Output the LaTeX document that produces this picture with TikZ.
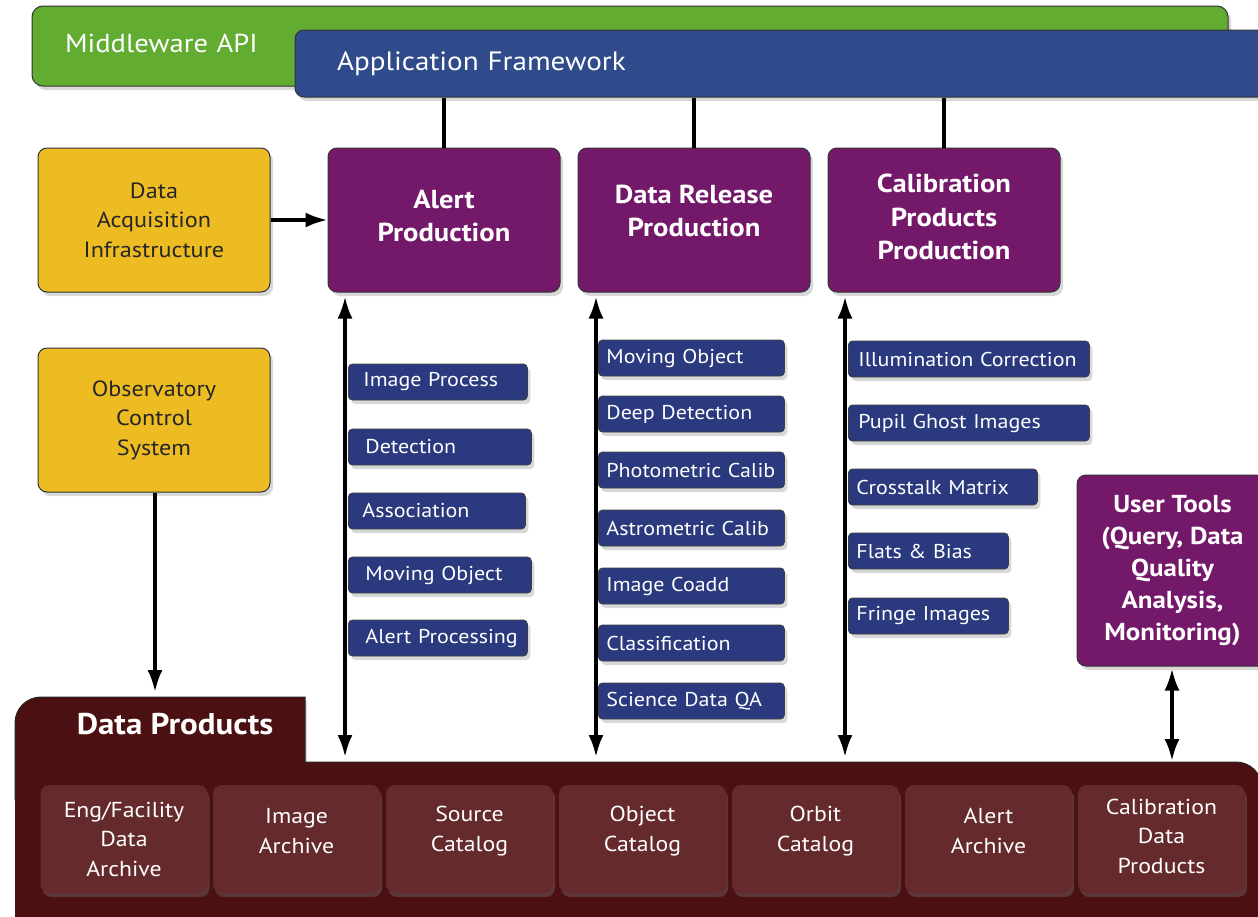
\documentclass[tikz,border=0pt]{standalone}
\usepackage{fontspec}
\setmainfont{PT Sans}[FakeStretch=1.1]
\usetikzlibrary{arrows.meta,shadows,calc}
\definecolor{mwgreen}{HTML}{62AC32}
\definecolor{afblue}{HTML}{2F4B8C}
\definecolor{prodpurple}{HTML}{74186A}
\definecolor{infoyellow}{HTML}{EDBC22}
\definecolor{subblue}{HTML}{2B3A7E}
\definecolor{dpmaroon}{HTML}{4B1012}
\definecolor{dpinner}{HTML}{652A2B}
\begin{document}
\begin{tikzpicture}[x=1pt,y=-1pt,
  shd/.style={drop shadow={shadow xshift=3pt,shadow yshift=-4pt,opacity=0.3}},
  prodbox/.style={draw=black!80,line width=1pt,fill=prodpurple,rounded corners=9pt,
    minimum width=232pt,minimum height=144pt,shd,inner sep=0pt},
  prodtext/.style={text=white,font=\fontsize{26}{33.5}\selectfont\bfseries,align=center},
  infobox/.style={draw=black!80,line width=1pt,fill=infoyellow,rounded corners=9pt,
    minimum width=232pt,minimum height=144pt,text=black!85,
    font=\fontsize{22}{29.5}\selectfont,align=center,shd,inner sep=0pt},
  subbox/.style={fill=subblue,draw=black!75,line width=0.8pt,rounded corners=4pt,
    minimum height=36pt,text=white,font=\fontsize{20}{22}\selectfont,
    anchor=west,align=left,inner ysep=0pt,shd},
  dpbox/.style={fill=dpinner,rounded corners=9pt,minimum width=167pt,minimum height=108pt,
    inner sep=0pt,drop shadow={shadow xshift=2pt,shadow yshift=-4pt,opacity=0.35}},
  dptext/.style={text=white,font=\fontsize{21.6}{29.5}\selectfont,align=center},
  conn/.style={line width=4pt,black},
  arr/.style={line width=3.5pt,black,-{Latex[length=22pt,width=15pt]}},
  darr/.style={line width=3.5pt,black,{Latex[length=22pt,width=15pt]}-{Latex[length=22pt,width=15pt]}}
]
\useasboundingbox (0,0) rectangle (1258,916);
\fill[white] (0,0) rectangle (1258,916);

% Middleware API and Application Framework
\node[draw=black!80,line width=1pt,fill=mwgreen,rounded corners=11pt,minimum width=1196pt,
  minimum height=80pt,inner xsep=33pt,text width=1130pt,align=left,text=white,
  font=\fontsize{26}{30}\selectfont,shd] (mw) at (630,46) {\raisebox{5pt}{Middleware API}};
\node[draw=black!80,line width=1pt,fill=afblue,rounded corners=9pt,minimum width=980pt,
  minimum height=67pt,inner xsep=42pt,text width=896pt,align=left,text=white,
  font=\fontsize{26.5}{30}\selectfont,shd] (af) at (785,63.5) {Application Framework};

% Productions
\node[prodbox,label={[prodtext,yshift=4pt]center:Alert\\Production}] (ap) at (444,220) {};
\node[prodbox,label={[prodtext,yshift=9pt]center:Data Release\\Production}] (drp) at (694,220) {};
\node[prodbox,label={[prodtext,yshift=3pt]center:Calibration\\Products\\Production}] (cpp) at (944,220) {};

\draw[conn] (af.south -| ap.north) -- (ap.north);
\draw[conn] (af.south -| drp.north) -- (drp.north);
\draw[conn] (af.south -| cpp.north) -- (cpp.north);

% Infrastructure
\node[infobox] (dai) at (154,220) {Data\\Acquisition\\Infrastructure};
\node[infobox] (ocs) at (154,420) {Observatory\\Control\\System};

% Data Products container
\fill[dpmaroon,drop shadow={shadow xshift=2pt,shadow yshift=-4pt,opacity=0.3}]
  (15,940) -- (15,722) [rounded corners=26pt] -- (15,697) [sharp corners] -- (305,697)
  -- (305,762) [rounded corners=26pt] -- (1262,762) [sharp corners] -- (1262,940) -- cycle;
\draw[black!85,line width=1pt]
  (15,800) -- (15,722) [rounded corners=26pt] -- (15,697) [sharp corners] -- (305,697)
  -- (305,762) [rounded corners=26pt] -- (1262,762) [sharp corners] -- (1262,800);
\node[text=white,font=\fontsize{30}{32}\selectfont\bfseries] (dptitle) at (175,724) {Data Products};

\node[dpbox,label={[dptext]center:Eng/Facility\\Data\\Archive}] (efa) at (124,839) {};
\node[dpbox,label={[dptext,yshift=8pt]center:Image\\Archive}] (ia) at (296.5,839) {};
\node[dpbox,label={[dptext,yshift=8pt]center:Source\\Catalog}] (sc) at (469.5,839) {};
\node[dpbox,label={[dptext,yshift=8pt]center:Object\\Catalog}] (oc) at (642.5,839) {};
\node[dpbox,label={[dptext,yshift=8pt]center:Orbit\\Catalog}] (orc) at (815.5,839) {};
\node[dpbox,label={[dptext,yshift=8pt]center:Alert\\Archive}] (aa) at (988.5,839) {};
\node[dpbox,label={[dptext,yshift=3pt]center:Calibration\\Data\\Products}] (cdp) at (1161.5,839) {};

% endpoints on the Data Products container
\coordinate (apbot) at (345,757);
\coordinate (drpbot) at (596,757);
\coordinate (cppbot) at (845,757);
\coordinate (ocsbot) at (155,692);
\coordinate (utbot) at (1172,761);

% Alert Production steps
\node[subbox,text width=149pt,inner xsep=15pt] (s1) at (348,382) {Image Process};
\node[subbox,text width=149pt,inner xsep=17pt] (s2) at (348,447) {Detection};
\node[subbox,text width=149pt,inner xsep=14pt] (s3) at (348,511) {Association};
\node[subbox,text width=149pt,inner xsep=17pt] (s4) at (348,575) {Moving Object};
\node[subbox,text width=161pt,inner xsep=9pt] (s5) at (348,638) {\hspace*{8pt}\mbox{Alert Processing}};

% Data Release steps
\node[subbox,text width=170pt,inner xsep=8pt] (d1) at (598,358) {Moving Object};
\node[subbox,text width=170pt,inner xsep=8pt] (d2) at (598,414) {Deep Detection};
\node[subbox,text width=170pt,inner xsep=8pt] (d3) at (598,470) {Photometric Calib};
\node[subbox,text width=170pt,inner xsep=8pt] (d4) at (598,528) {Astrometric Calib};
\node[subbox,text width=170pt,inner xsep=8pt] (d5) at (598,586) {Image Coadd};
\node[subbox,text width=170pt,inner xsep=8pt] (d6) at (598,643) {Classification};
\node[subbox,text width=170pt,inner xsep=8pt] (d7) at (598,701) {Science Data QA};

% Calibration steps
\node[subbox,text width=221pt,inner xsep=10pt] (c1) at (848,359) {Illumination Correction};
\node[subbox,text width=221pt,inner xsep=10pt] (c2) at (848,423) {Pupil Ghost Images};
\node[subbox,text width=173pt,inner xsep=8pt] (c3) at (848,487) {Crosstalk Matrix};
\node[subbox,text width=144pt,inner xsep=8pt] (c4) at (848,551) {Flats \& Bias};
\node[subbox,text width=144pt,inner xsep=8pt] (c5) at (848,616) {Fringe Images};

% User tools
\node[draw=black!80,line width=1pt,fill=prodpurple,rounded corners=9pt,minimum width=191pt,
  minimum height=191pt,text=white,font=\fontsize{24.5}{32}\selectfont\bfseries,align=center,
  shd,inner sep=0pt] (ut) at (1172.5,570.5) {User Tools\\(Query, Data\\Quality\\Analysis,\\Monitoring)};

% Arrows
\draw[arr] (dai.east) -- (ap.west);
\draw[arr] (ocs.south -| ocsbot) -- (ocsbot);
\draw[darr] ([yshift=-4pt]ap.south -| apbot) -- (apbot);
\draw[darr] ([yshift=-4pt]drp.south -| drpbot) -- (drpbot);
\draw[darr] ([yshift=-4pt]cpp.south -| cppbot) -- (cppbot);
\draw[darr] ([yshift=-2pt]ut.south -| utbot) -- (utbot);
\end{tikzpicture}
\end{document}
